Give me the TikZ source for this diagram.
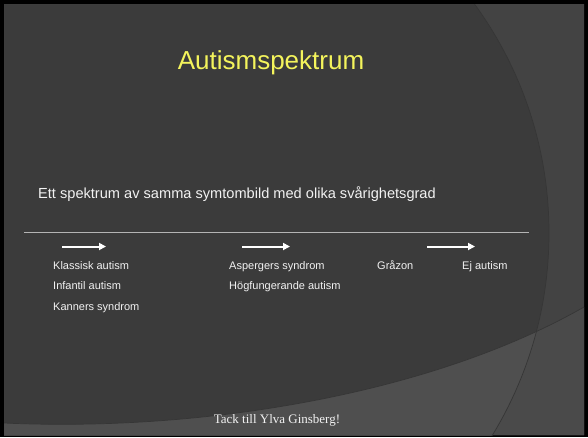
\documentclass[tikz,border=0pt]{standalone}
\usepackage{fontspec}
\setmainfont{Liberation Sans}
\newfontfamily\thanksfont{Liberation Serif}
\usetikzlibrary{arrows.meta}

\definecolor{slidebg}{HTML}{3B3B3B}
\definecolor{sideband}{HTML}{434343}
\definecolor{bottomband}{HTML}{4F4F4F}
\definecolor{cornerband}{HTML}{4A4A4A}
\definecolor{edgeshade}{HTML}{363636}
\definecolor{titleyellow}{HTML}{F4F45C}
\definecolor{bodywhite}{HTML}{F2F2F2}
\definecolor{rulegray}{HTML}{B4B4B4}

\tikzset{
  titletext/.style={text=titleyellow, font=\fontsize{26}{30}\selectfont, inner sep=0pt},
  leadtext/.style={text=bodywhite, font=\fontsize{14.6}{17}\selectfont, inner sep=0pt, anchor=base west},
  itemtext/.style={text=bodywhite, font=\fontsize{11}{13}\selectfont, inner sep=0pt, anchor=base west},
  thankstext/.style={text=bodywhite, font=\thanksfont\fontsize{13}{15}\selectfont, inner sep=0pt, anchor=base},
  flowarrow/.style={draw=white, line width=2pt, -{Triangle[length=7pt,width=7pt]}},
  divider/.style={draw=rulegray, line width=0.9pt}
}

\begin{document}
\begin{tikzpicture}[x=1pt,y=-1pt]
\useasboundingbox (0,0) rectangle (588,437);

% frame and slide background
\fill[black] (0,0) rectangle (588,437);
\begin{scope}
  \clip (4,4) rectangle (584,435);
  \fill[slidebg] (4,4) rectangle (584,435);
  % lighter band outside the large circle on the right
  \fill[sideband, even odd rule] (4,4) rectangle (584,435) (160,233) circle[radius=389pt];
  % lighter band along the bottom
  \fill[bottomband] (4,423) .. controls (200,432) and (430,395) .. (584,307) -- (584,435) -- (4,435) -- cycle;
  % where the two bands overlap
  \begin{scope}
    \clip (4,423) .. controls (200,432) and (430,395) .. (584,307) -- (584,435) -- (4,435) -- cycle;
    \fill[cornerband, even odd rule] (4,4) rectangle (584,435) (160,233) circle[radius=389pt];
  \end{scope}
  % faint edges of the background shapes
  \draw[edgeshade, line width=0.7pt] (160,233) circle[radius=389pt];
  \draw[edgeshade, line width=0.7pt] (4,423) .. controls (200,432) and (430,395) .. (584,307);
\end{scope}

% title and lead sentence
\node[titletext] (title) at (271,63) {Autismspektrum};
\node[leadtext] (lead) at (38,198) {Ett spektrum av samma symtombild med olika svårighetsgrad};

% divider
\coordinate (ruleL) at (24,232.5);
\coordinate (ruleR) at (529,232.5);
\draw[divider] (ruleL) -- (ruleR);

% arrows
\coordinate (a1s) at (62,246.5);  \coordinate (a1e) at (106,246.5);
\coordinate (a2s) at (242,246.5); \coordinate (a2e) at (290,246.5);
\coordinate (a3s) at (427,246.5); \coordinate (a3e) at (475,246.5);
\draw[flowarrow] (a1s) -- (a1e);
\draw[flowarrow] (a2s) -- (a2e);
\draw[flowarrow] (a3s) -- (a3e);

% spectrum entries
\node[itemtext] (klassisk) at (53,269) {Klassisk autism};
\node[itemtext] (infantil) at (53,289) {Infantil autism};
\node[itemtext] (kanner) at (53,310) {Kanners syndrom};
\node[itemtext] (asperger) at (229,269) {Aspergers syndrom};
\node[itemtext] (hogfung) at (229,289) {Högfungerande autism};
\node[itemtext] (grazon) at (377,269) {Gråzon};
\node[itemtext] (ejautism) at (462,269) {Ej autism};

% acknowledgement
\node[thankstext] (thanks) at (277,423) {Tack till Ylva Ginsberg!};
\end{tikzpicture}
\end{document}
